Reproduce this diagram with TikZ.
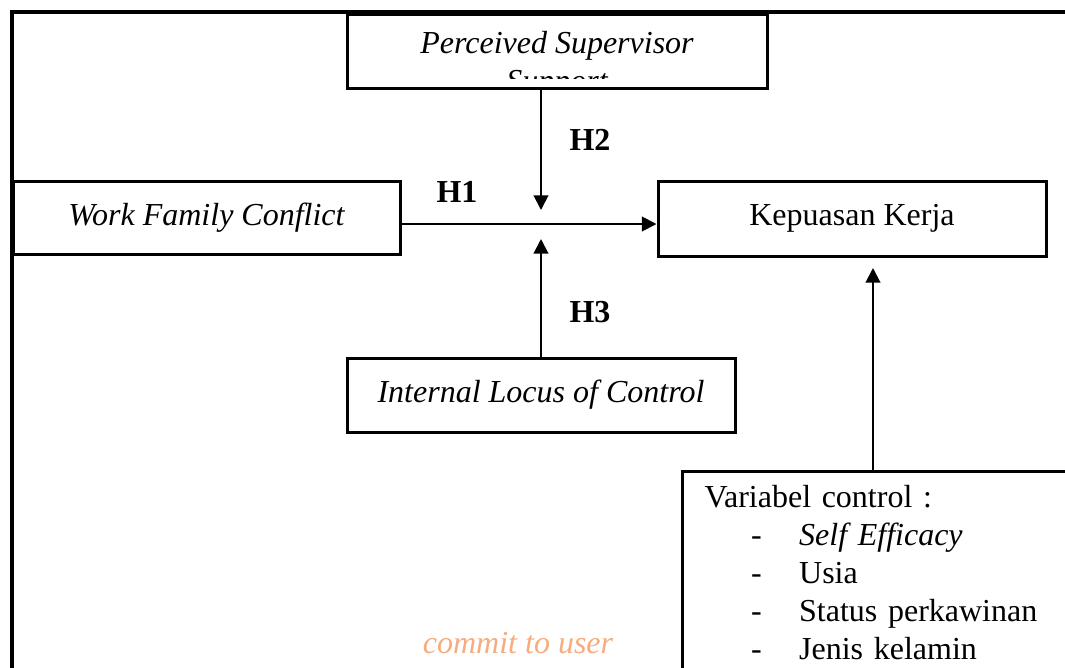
\documentclass[tikz,border=0pt]{standalone}
\usepackage{fontspec}
\setmainfont{Liberation Serif}
\usetikzlibrary{arrows.meta,calc}
\definecolor{wm}{HTML}{F7AC80}
\begin{document}
\begin{tikzpicture}[x=0.75pt,y=-0.75pt,
  txt/.style={font=\fontsize{24}{28.5}\selectfont},
  box/.style={draw, line width=2.25pt, rectangle, inner sep=0pt, txt},
  lbl/.style={font=\bfseries\fontsize{24}{28.5}\selectfont, inner sep=0pt},
  arr/.style={line width=1.5pt, -{Triangle[length=11pt,width=11pt]}},
  frame/.style={line width=2.6pt}]
\useasboundingbox (0,0) rectangle (1065,668);
\clip (0,0) rectangle (1065,668);
% outer frame
\draw[frame] (12,700) -- (12,12) -- (1100,12);
% boxes
\node[box, minimum width=420*0.75pt, minimum height=74*0.75pt,
  path picture={
    \clip (path picture bounding box.north west) rectangle ($(path picture bounding box.south east)+(0,-10)$);
    \node[anchor=base, inner sep=0pt, font=\itshape\fontsize{24}{28.5}\selectfont]
      at ($(path picture bounding box.north)+(0,39)$) {Perceived Supervisor};
    \node[anchor=base, inner sep=0pt, font=\itshape\fontsize{24}{28.5}\selectfont]
      at ($(path picture bounding box.north)+(0,77)$) {Support};
  }] (pss) at (557,51) {};
\node[box, minimum width=387*0.75pt, minimum height=73*0.75pt, font=\itshape\fontsize{24}{28.5}\selectfont] (wfc) at (206.5,217.5) {Work Family Conflict};
\node[box, minimum width=388*0.75pt, minimum height=75*0.75pt] (kk) at (852,218.5) {Kepuasan Kerja};
\node[box, minimum width=388*0.75pt, minimum height=74*0.75pt, font=\itshape\fontsize{24}{28.5}\selectfont] (ilc) at (541,395) {Internal Locus of Control};
\node[box, anchor=north west, align=left, text width=300pt, inner xsep=16.5pt, inner ysep=10.5pt] (ctrl) at (681,470)
  {Variabel control :\\
   \hspace*{35pt}\makebox[36pt][l]{-}\textit{Self Efficacy}\\
   \hspace*{35pt}\makebox[36pt][l]{-}Usia\\
   \hspace*{35pt}\makebox[36pt][l]{-}Status perkawinan\\
   \hspace*{35pt}\makebox[36pt][l]{-}Jenis kelamin};
% arrow end points
\coordinate (h1) at (0,224);
\coordinate (h2) at (541,210);
\coordinate (h3) at (541,239);
\coordinate (ck) at (873,268);
% connectors
\draw[arr] (wfc.east |- h1) -- (kk.west |- h1);
\draw[arr] (pss.south -| h2) -- (h2);
\draw[arr] (ilc.north -| h3) -- (h3);
\draw[arr] (ctrl.north -| ck) -- (ck);
% labels
\node[lbl] (lh1) at (457,192) {H1};
\node[lbl] (lh2) at (590,140) {H2};
\node[lbl] (lh3) at (590,312) {H3};
% watermark
\node[text=wm, font=\itshape\fontsize{24}{28.5}\selectfont] (commit) at (518,643) {commit to user};
\end{tikzpicture}
\end{document}
